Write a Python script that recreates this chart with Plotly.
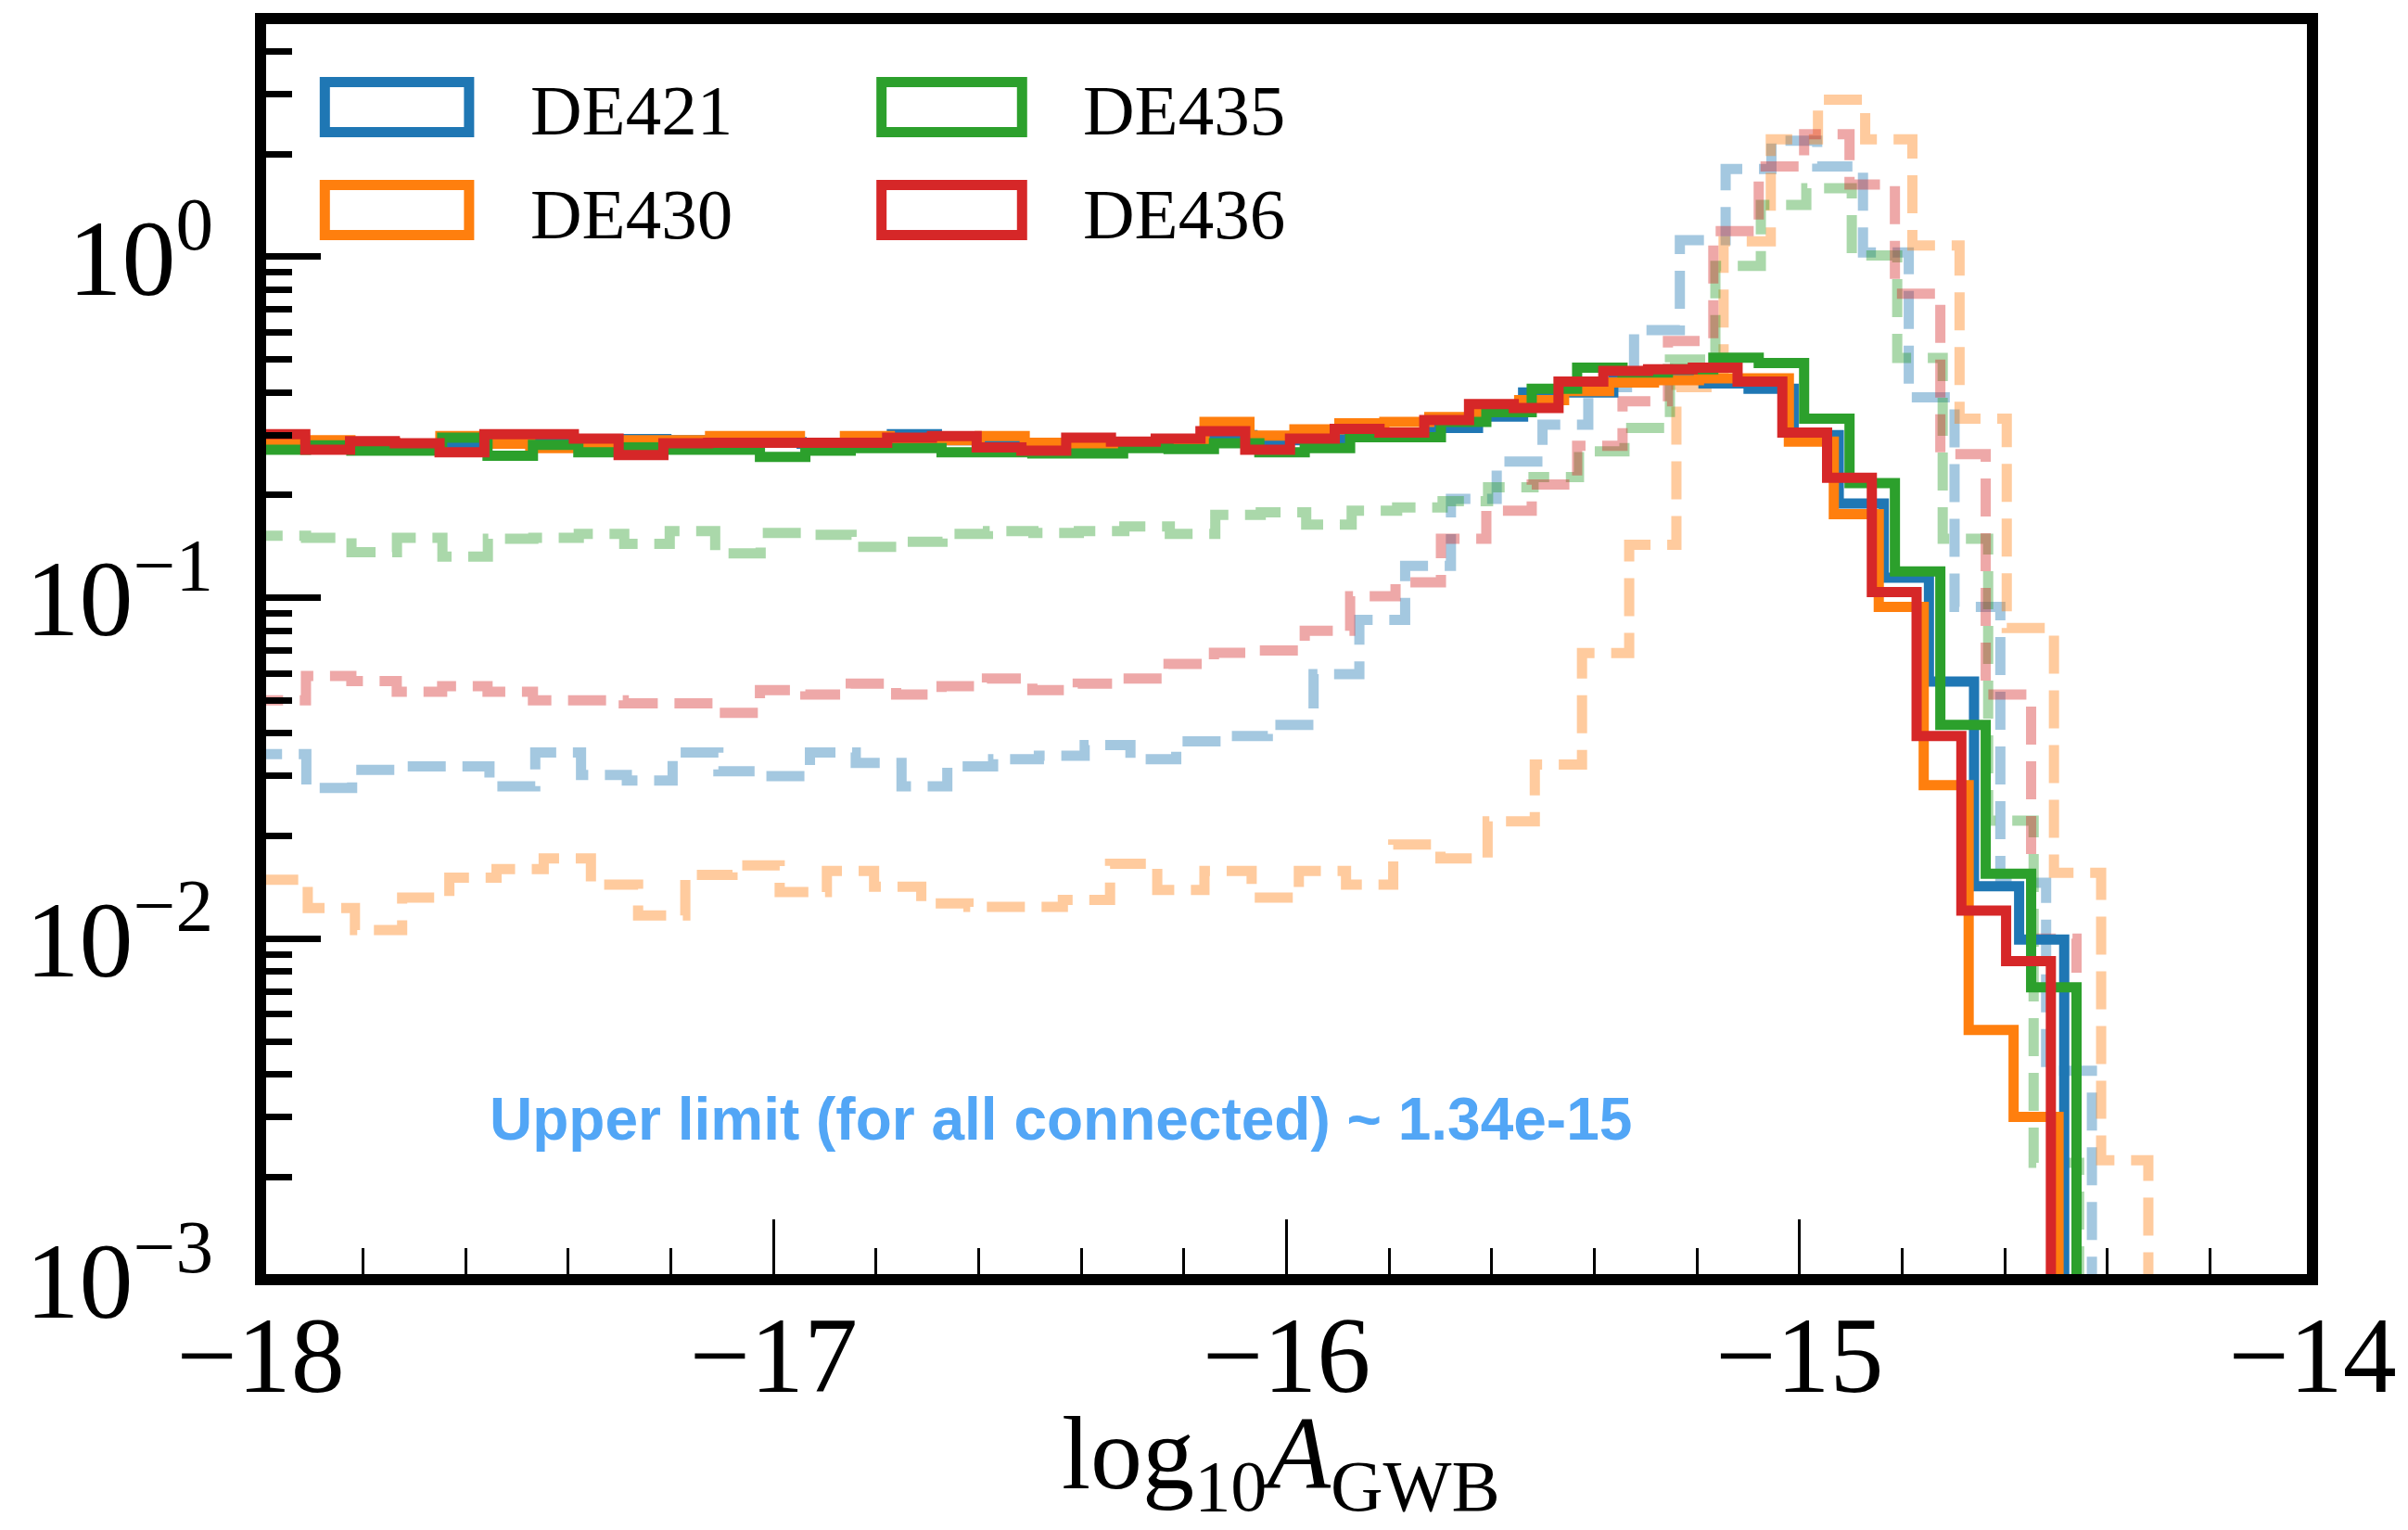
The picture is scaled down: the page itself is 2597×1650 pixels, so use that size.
import numpy as np
import plotly.graph_objects as go

# ---------------- data ----------------
series_names = ["DE421", "DE430", "DE435", "DE436"]
series_colors = ["#1f77b4", "#ff7f0e", "#2ca02c", "#d62728"]

bin_lo = -18.0
solid_hi = [-14.484, -14.495, -14.46, -14.51]
dashed_hi = [-14.43, -14.32, -14.455, -14.46]

solid_de421 = [0.285, 0.285, 0.28, 0.276, 0.28, 0.29, 0.29, 0.29, 0.292, 0.29,
               0.283, 0.286, 0.283, 0.283, 0.302, 0.29, 0.285, 0.275, 0.275, 0.278,
               0.29, 0.30, 0.29, 0.29, 0.30, 0.30, 0.315, 0.34, 0.40, 0.40,
               0.44, 0.445, 0.425, 0.41, 0.30, 0.189, 0.1145, 0.0568, 0.01425, 0.00995]
solid_de430 = [0.29, 0.29, 0.285, 0.28, 0.298, 0.283, 0.275, 0.283, 0.29, 0.29,
               0.298, 0.298, 0.285, 0.298, 0.29, 0.29, 0.298, 0.285, 0.28, 0.285,
               0.29, 0.328, 0.299, 0.312, 0.325, 0.328, 0.339, 0.35, 0.38, 0.404,
               0.428, 0.435, 0.44, 0.44, 0.287, 0.176, 0.094, 0.0282, 0.0054, 0.0030]
solid_de435 = [0.272, 0.28, 0.27, 0.27, 0.295, 0.261, 0.281, 0.267, 0.276, 0.272,
               0.272, 0.259, 0.27, 0.275, 0.275, 0.267, 0.267, 0.265, 0.265, 0.275,
               0.273, 0.284, 0.267, 0.275, 0.296, 0.296, 0.328, 0.35, 0.41, 0.473,
               0.458, 0.468, 0.506, 0.488, 0.335, 0.217, 0.1195, 0.0424, 0.0155, 0.0072]
solid_de436 = [0.302, 0.272, 0.288, 0.284, 0.267, 0.302, 0.302, 0.293, 0.262, 0.284,
               0.285, 0.285, 0.285, 0.285, 0.295, 0.298, 0.276, 0.27, 0.295, 0.287,
               0.293, 0.308, 0.272, 0.293, 0.313, 0.305, 0.332, 0.37, 0.36, 0.431,
               0.463, 0.468, 0.473, 0.431, 0.305, 0.225, 0.104, 0.0393, 0.0121, 0.0086]

dashed_de421 = [0.0348, 0.0277, 0.0313, 0.032, 0.032, 0.028, 0.0352, 0.0302, 0.0291, 0.0352,
                0.031, 0.030, 0.0352, 0.0328, 0.028, 0.032, 0.0336, 0.0344, 0.037, 0.0336,
                0.0379, 0.0393, 0.0424, 0.0597, 0.0861, 0.124, 0.195, 0.251, 0.322, 0.415,
                0.61, 1.12, 1.81, 2.19, 1.84, 1.03, 0.387, 0.094, 0.0146, 0.0041]
dashed_de430 = [0.0149, 0.0123, 0.0106, 0.0132, 0.0151, 0.016, 0.0172, 0.0144, 0.0117, 0.0154,
                0.0164, 0.0137, 0.0158, 0.0142, 0.0127, 0.0124, 0.0124, 0.013, 0.0166, 0.0139,
                0.0158, 0.0132, 0.0158, 0.0144, 0.0189, 0.0172, 0.0221, 0.0324, 0.0689, 0.143,
                0.415, 1.11, 2.21, 2.89, 2.21, 1.08, 0.335, 0.0815, 0.0156, 0.00224]
dashed_de435 = [0.152, 0.150, 0.136, 0.150, 0.132, 0.149, 0.150, 0.154, 0.144, 0.157,
                0.135, 0.155, 0.153, 0.141, 0.146, 0.154, 0.157, 0.155, 0.157, 0.162,
                0.154, 0.175, 0.178, 0.164, 0.180, 0.184, 0.192, 0.211, 0.226, 0.269,
                0.315, 0.50, 0.94, 1.42, 1.59, 1.01, 0.505, 0.149, 0.0222, 0.0022]
dashed_de436 = [0.050, 0.059, 0.057, 0.053, 0.055, 0.053, 0.050, 0.050, 0.049, 0.049,
                0.046, 0.0536, 0.052, 0.056, 0.052, 0.055, 0.058, 0.0536, 0.056, 0.058,
                0.064, 0.069, 0.070, 0.080, 0.101, 0.111, 0.149, 0.180, 0.215, 0.279,
                0.377, 0.566, 1.19, 1.84, 2.29, 1.63, 0.78, 0.264, 0.052, 0.010]

solid_values = [solid_de421, solid_de430, solid_de435, solid_de436]
dashed_values = [dashed_de421, dashed_de430, dashed_de435, dashed_de436]

x_tick_vals = [-18, -17, -16, -15, -14]
x_tick_text = ["\u221218", "\u221217", "\u221216", "\u221215", "\u221214"]
y_tick_vals = [1e-3, 1e-2, 1e-1, 1e0]
y_tick_text = ["10<sup>\u22123</sup>", "10<sup>\u22122</sup>", "10<sup>\u22121</sup>", "10<sup>0</sup>"]
x_title = "log<sub>10</sub><i>A</i><sub>GWB</sub>"
annotation_text = "Upper limit (for all connected) ~ 1.34e-15"

# ---------------- figure ----------------
W, H = 2597, 1650
L, R, T, B = 281, 97, 20, 270
PW, PH = W - L - R, H - T - B
FLOOR = 1e-6  # stands in for zero on the log axis (below visible range)


def px_x(p):
    return (p - L) / PW


def px_y(p):
    return (H - B - p) / PH


def step_xy(values, lo, hi):
    edges = np.linspace(lo, hi, len(values) + 1)
    xs = [edges[0]] + list(edges) + [edges[-1]]
    ys = [FLOOR] + list(values) + [values[-1], FLOOR]
    return xs, ys


fig = go.Figure()

for name, col, vals, hi in zip(series_names, series_colors, dashed_values, dashed_hi):
    xs, ys = step_xy(vals, bin_lo, hi)
    fig.add_trace(go.Scatter(x=xs, y=ys, mode="lines", line_shape="hv", opacity=0.4,
                             line=dict(color=col, width=11, dash="41px,18px"),
                             name=name + " (dashed)", showlegend=False, hoverinfo="skip"))

for name, col, vals, hi in zip(series_names, series_colors, solid_values, solid_hi):
    xs, ys = step_xy(vals, bin_lo, hi)
    fig.add_trace(go.Scatter(x=xs, y=ys, mode="lines", line_shape="hv",
                             line=dict(color=col, width=11),
                             name=name, showlegend=False, hoverinfo="skip"))

serif = "Liberation Serif"
y_minor = [m * 10.0 ** e for e in (-3, -2, -1) for m in range(2, 10)] + [2.0, 3.0, 4.0]

fig.update_layout(
    width=W, height=H,
    margin=dict(l=L, r=R, t=T, b=B, pad=0),
    plot_bgcolor="white", paper_bgcolor="white",
    showlegend=False,
    xaxis=dict(
        range=[-18, -14], tickmode="array", tickvals=x_tick_vals, ticktext=x_tick_text,
        ticks="inside", ticklen=65, tickwidth=3, tickcolor="black",
        showgrid=False, zeroline=False, showline=False,
        tickfont=dict(family=serif, size=116, color="black"),
        ticklabelstandoff=4,
        minor=dict(ticks="inside", ticklen=34, tickwidth=3, tickcolor="black",
                   tick0=-18, dtick=0.2, showgrid=False),
    ),
    yaxis=dict(
        type="log", range=[-3, np.log10(5)], tickmode="array",
        tickvals=y_tick_vals, ticktext=y_tick_text,
        ticks="inside", ticklen=65, tickwidth=7, tickcolor="black",
        showgrid=False, zeroline=False, showline=False,
        tickfont=dict(family=serif, size=116, color="black"),
        ticklabelstandoff=50,
        minor=dict(ticks="inside", ticklen=34, tickwidth=7, tickcolor="black",
                   tickmode="array", tickvals=y_minor, showgrid=False),
    ),
)

shapes = [dict(type="rect", xref="paper", yref="paper", x0=0, x1=1, y0=0, y1=1,
               line=dict(color="black", width=12), layer="above")]

# legend (outlined patches, two columns)
legend_cols = [(350.5, 506.5, 571), (952.5, 1104.5, 1168)]
legend_rows = [(88.5, 142.5), (199.5, 253.5)]
legend_order = [(0, 0, 0), (1, 0, 1), (2, 1, 0), (3, 1, 1)]  # series, col, row
annotations = []
for si, ci, ri in legend_order:
    x0, x1, tx = legend_cols[ci]
    y0, y1 = legend_rows[ri]
    shapes.append(dict(type="rect", xref="paper", yref="paper",
                       x0=px_x(x0), x1=px_x(x1), y0=px_y(y1), y1=px_y(y0),
                       line=dict(color=series_colors[si], width=11), fillcolor="rgba(0,0,0,0)",
                       layer="above"))
    annotations.append(dict(xref="paper", yref="paper", x=px_x(tx), y=px_y((y0 + y1) / 2 + 4),
                            xanchor="left", yanchor="middle", showarrow=False,
                            text=series_names[si],
                            font=dict(family=serif, size=77, color="black")))

annotations.append(dict(xref="paper", yref="paper", x=px_x(1146), y=px_y(1207),
                        xanchor="center", yanchor="middle", showarrow=False,
                        text="<b>" + annotation_text + "</b>",
                        font=dict(family="Liberation Sans", size=64, color="#52a6f6")))

# x-axis title placed explicitly
annotations.append(dict(xref="paper", yref="paper", x=px_x(1384), y=px_y(1503),
                        xanchor="center", yanchor="top", showarrow=False,
                        text=x_title,
                        font=dict(family=serif, size=112, color="black")))

fig.update_layout(shapes=shapes, annotations=annotations)

fig.write_html("out.html", config={"displayModeBar": False},
               post_script="document.body.style.margin='0px';")
